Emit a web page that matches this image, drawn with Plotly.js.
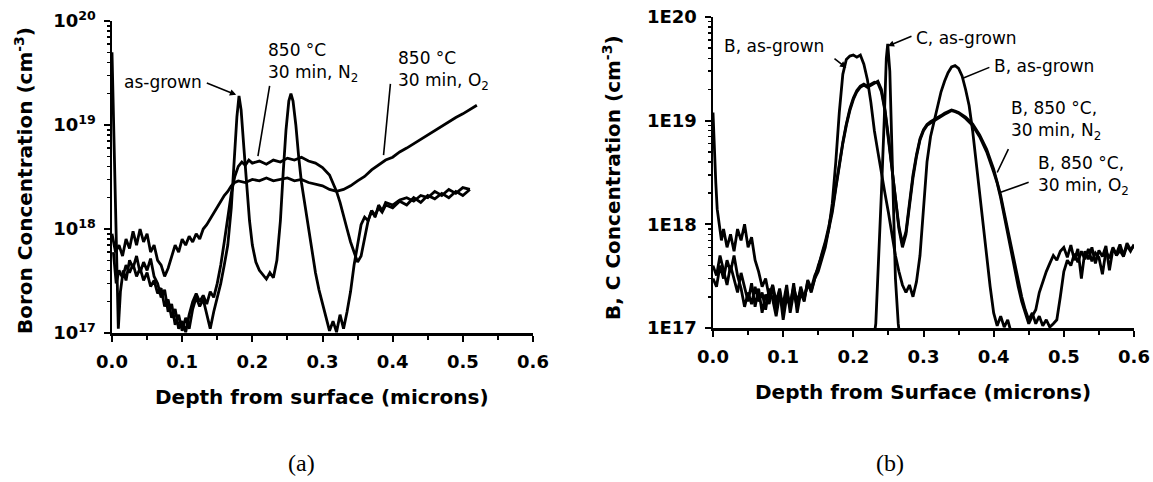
<!DOCTYPE html>
<html>
<head>
<meta charset="utf-8">
<script src="https://cdn.plot.ly/plotly-3.0.1.min.js"></script>
<style>html,body{margin:0;padding:0;background:#fff;}#chart{width:1153px;height:482px;}</style>
</head>
<body>
<div id="chart"></div>
<script>
// ---------- Panel (a): Boron concentration ----------
const xAsGrownA = [0.000,0.003,0.006,0.009,0.012,0.016,0.020,0.025,0.030,0.035,0.040,0.045,0.050,0.055,0.060,0.065,0.070,0.075,0.080,0.085,0.090,0.095,0.100,0.105,0.110,0.115,0.120,0.125,0.130,0.135,0.140,0.145,0.150,0.155,0.160,0.165,0.170,0.174,0.178,0.181,0.184,0.188,0.192,0.196,0.200,0.205,0.210,0.215,0.220,0.225,0.230,0.235,0.240,0.244,0.248,0.252,0.255,0.258,0.262,0.266,0.270,0.275,0.280,0.285,0.290,0.295,0.300,0.305,0.310,0.315,0.320,0.325,0.330,0.335,0.340,0.345,0.350,0.355,0.360,0.365,0.370,0.375,0.380,0.385,0.390,0.400,0.410,0.420,0.430,0.440,0.450,0.460,0.470,0.480,0.490,0.500,0.510];
const yAsGrownA = [5e19,8e18,1.2e18,1.1e17,2.5e17,4e17,3.2e17,5e17,4.2e17,5.5e17,3.8e17,4.8e17,4e17,5.2e17,3.5e17,3e17,2.2e17,2.6e17,1.6e17,1.9e17,1.2e17,1.5e17,1.05e17,1.4e17,1.1e17,1.7e17,2.2e17,1.8e17,2.1e17,1.5e17,1.1e17,1.6e17,2.2e17,3e17,4.5e17,7e17,1.6e18,4.5e18,1.2e19,1.9e19,1.4e19,6e18,2.5e18,1.2e18,7e17,4.8e17,4e17,3.6e17,3.3e17,3.8e17,3.4e17,5e17,1.2e18,3.5e18,9e18,1.7e19,2e19,1.7e19,1e19,5e18,2.8e18,1.7e18,1e18,6e17,3.8e17,2.6e17,1.9e17,1.4e17,1.05e17,1.3e17,1.02e17,1.5e17,1.1e17,1.6e17,2.5e17,4.5e17,7e17,1.1e18,1.3e18,1.2e18,1.5e18,1.35e18,1.6e18,1.45e18,1.7e18,1.6e18,1.85e18,1.7e18,2e18,1.8e18,2.1e18,1.95e18,2.2e18,2e18,2.3e18,2.1e18,2.4e18];

const xN2A = [0.002,0.006,0.010,0.015,0.020,0.025,0.030,0.035,0.040,0.045,0.050,0.055,0.060,0.065,0.070,0.075,0.080,0.085,0.090,0.095,0.100,0.105,0.110,0.115,0.120,0.125,0.130,0.135,0.140,0.145,0.150,0.155,0.160,0.165,0.170,0.175,0.180,0.185,0.190,0.195,0.200,0.210,0.220,0.230,0.240,0.250,0.260,0.270,0.280,0.290,0.300,0.310,0.315,0.320,0.325,0.330,0.335,0.340,0.345,0.350,0.355,0.360,0.365,0.370,0.375,0.380,0.385,0.390,0.400,0.410,0.420,0.430,0.440,0.450,0.460,0.470,0.480,0.490,0.500,0.510];
const yN2A = [6e17,3e17,4e17,3.4e17,4.5e17,3.8e17,4.6e17,3.5e17,4.2e17,3.2e17,3.8e17,2.8e17,3.2e17,2.4e17,2.7e17,1.8e17,2.1e17,1.4e17,1.7e17,1.1e17,1.3e17,1.02e17,1.5e17,2e17,2.4e17,2e17,2.3e17,1.9e17,2.5e17,2.2e17,3e17,4.5e17,7.5e17,1.3e18,2.2e18,3.2e18,4e18,4.4e18,4.1e18,4.6e18,4.3e18,4.5e18,4.2e18,4.6e18,4.4e18,4.8e18,4.6e18,4.9e18,4.5e18,4.3e18,3.9e18,3.3e18,2.8e18,2.3e18,1.8e18,1.3e18,1e18,7.5e17,6e17,4.8e17,5.5e17,8e17,1.2e18,1.5e18,1.3e18,1.7e18,1.5e18,1.8e18,1.7e18,1.9e18,2e18,1.85e18,2.1e18,2e18,2.3e18,2.1e18,2.4e18,2.2e18,2.5e18,2.4e18];

const xO2A = [0.000,0.005,0.010,0.015,0.020,0.025,0.030,0.035,0.040,0.045,0.050,0.055,0.060,0.065,0.070,0.075,0.080,0.085,0.090,0.095,0.100,0.105,0.110,0.115,0.120,0.125,0.130,0.135,0.140,0.145,0.150,0.155,0.160,0.165,0.170,0.175,0.180,0.190,0.200,0.210,0.220,0.230,0.240,0.250,0.260,0.270,0.280,0.290,0.300,0.310,0.320,0.330,0.340,0.350,0.360,0.370,0.380,0.390,0.400,0.410,0.420,0.430,0.440,0.450,0.460,0.470,0.480,0.490,0.500,0.510,0.520];
const yO2A = [9e17,6e17,7e17,5.5e17,8e17,6.5e17,9.5e17,7e17,1e18,7.5e17,9e17,6e17,7e17,5e17,4.5e17,3.5e17,4.2e17,5.5e17,7e17,6e17,8e17,7e17,8.5e17,7.5e17,9e17,8e17,1e18,1.1e18,1.25e18,1.4e18,1.6e18,1.8e18,2.1e18,2.3e18,2.6e18,2.8e18,2.9e18,2.8e18,3e18,2.9e18,3.1e18,2.9e18,3e18,3.1e18,2.9e18,3e18,2.8e18,2.7e18,2.6e18,2.4e18,2.3e18,2.4e18,2.6e18,2.9e18,3.2e18,3.7e18,4.1e18,4.6e18,4.9e18,5.5e18,6e18,6.6e18,7.3e18,8e18,8.8e18,9.8e18,1.08e19,1.18e19,1.28e19,1.4e19,1.55e19];

// ---------- Panel (b): B, C concentration ----------
const xBAsGrownB = [0.000,0.005,0.010,0.015,0.020,0.025,0.030,0.035,0.040,0.045,0.050,0.055,0.060,0.065,0.070,0.075,0.080,0.085,0.090,0.095,0.100,0.105,0.110,0.115,0.120,0.125,0.130,0.135,0.140,0.145,0.150,0.155,0.160,0.165,0.170,0.175,0.180,0.185,0.190,0.195,0.200,0.205,0.210,0.215,0.220,0.225,0.230,0.235,0.240,0.245,0.250,0.255,0.260,0.265,0.270,0.275,0.280,0.285,0.290,0.295,0.300,0.305,0.310,0.315,0.320,0.325,0.330,0.335,0.340,0.345,0.350,0.355,0.360,0.365,0.370,0.375,0.380,0.385,0.390,0.395,0.400,0.405,0.410,0.415,0.420,0.425];
const yBAsGrownB = [3e17,2.5e17,4e17,3e17,4.5e17,3.5e17,5e17,3.2e17,2.4e17,1.6e17,2.2e17,1.7e17,2.5e17,1.8e17,2.2e17,1.5e17,2.4e17,1.9e17,1.3e17,2.1e17,1.7e17,2.6e17,1.4e17,2.2e17,1.6e17,2.5e17,1.9e17,2.8e17,2.2e17,3e17,3.5e17,4.5e17,6e17,9e17,1.6e18,4e18,1.2e19,2.8e19,3.9e19,4.2e19,4.3e19,4.1e19,4.3e19,3.5e19,2.5e19,1.5e19,8e18,5e18,3e18,2e18,1.3e18,8e17,5e17,3.5e17,2.6e17,2.2e17,2.6e17,2e17,2.8e17,5e17,1.5e18,4e18,7e18,1e19,1.4e19,1.9e19,2.4e19,2.9e19,3.3e19,3.4e19,3.2e19,2.7e19,2e19,1.4e19,8e18,4e18,2e18,9e17,5e17,2.5e17,1.4e17,1.05e17,1.3e17,1.02e17,1.2e17,9e16];

const xBN2B = [0.000,0.002,0.004,0.006,0.009,0.012,0.015,0.020,0.025,0.030,0.035,0.040,0.045,0.050,0.055,0.060,0.065,0.070,0.075,0.080,0.085,0.090,0.095,0.100,0.105,0.110,0.115,0.120,0.125,0.130,0.135,0.140,0.145,0.150,0.155,0.160,0.165,0.170,0.175,0.180,0.185,0.190,0.195,0.200,0.205,0.210,0.215,0.220,0.225,0.230,0.235,0.240,0.245,0.250,0.255,0.260,0.265,0.270,0.275,0.280,0.285,0.290,0.295,0.300,0.305,0.310,0.315,0.320,0.325,0.330,0.335,0.340,0.345,0.350,0.360,0.370,0.380,0.390,0.400,0.405,0.410,0.415,0.420,0.425,0.430,0.435,0.440,0.445,0.450,0.455,0.460,0.465,0.470,0.475,0.480,0.485,0.490,0.495,0.500,0.505,0.510,0.515,0.520,0.525,0.530,0.535,0.540,0.545,0.550,0.555,0.560,0.565,0.570,0.575,0.580,0.585,0.590,0.595,0.600];
const yBN2B = [1.2e19,5e18,2.5e18,1.4e18,1e18,7e17,9e17,6e17,8e17,5.5e17,9e17,7e17,1e18,6e17,7.5e17,4.5e17,3.5e17,2.5e17,3e17,2e17,2.6e17,1.8e17,2.4e17,1.5e17,2.2e17,1.7e17,2.5e17,1.8e17,2.3e17,2e17,2.6e17,2.3e17,3e17,4e17,5e17,6.5e17,9e17,1.3e18,2.2e18,3.8e18,6e18,9e18,1.25e19,1.6e19,1.9e19,2.1e19,2.2e19,2.1e19,2.2e19,2.3e19,2.4e19,2e19,1.3e19,7e18,3.5e18,1.8e18,9e17,6e17,8e17,1.5e18,2.8e18,4.5e18,6.5e18,8e18,9e18,9.5e18,1e19,1.05e19,1.1e19,1.15e19,1.2e19,1.25e19,1.22e19,1.18e19,1.05e19,9e18,7e18,5e18,3.2e18,2.5e18,1.8e18,1.2e18,8e17,5.5e17,3.5e17,2.5e17,1.8e17,1.4e17,1.1e17,1.3e17,1.5e17,2.2e17,2.8e17,3.5e17,4.2e17,5e17,4.5e17,5.5e17,6e17,4.8e17,6.3e17,4.5e17,5.8e17,3e17,5.5e17,4.6e17,6e17,4.2e17,5.6e17,4.9e17,6.2e17,3.6e17,5.8e17,5.2e17,6.4e17,5e17,6.6e17,5.7e17,6.2e17];

const xBO2B = [0.000,0.005,0.010,0.015,0.020,0.025,0.030,0.035,0.040,0.045,0.050,0.055,0.060,0.065,0.070,0.075,0.080,0.085,0.090,0.095,0.100,0.105,0.110,0.115,0.120,0.125,0.130,0.135,0.140,0.145,0.150,0.155,0.160,0.165,0.170,0.175,0.180,0.185,0.190,0.195,0.200,0.205,0.210,0.215,0.220,0.225,0.230,0.235,0.240,0.245,0.250,0.255,0.260,0.265,0.270,0.275,0.280,0.285,0.290,0.295,0.300,0.305,0.310,0.315,0.320,0.325,0.330,0.335,0.340,0.345,0.350,0.360,0.370,0.380,0.390,0.400,0.405,0.410,0.415,0.420,0.425,0.430,0.435,0.440,0.445,0.450,0.455,0.460,0.465,0.470,0.475,0.480,0.485,0.490,0.495,0.500,0.505,0.510,0.515,0.520,0.525,0.530,0.535,0.540,0.545,0.550,0.555,0.560,0.565,0.570,0.575,0.580,0.585,0.590,0.595,0.600];
const yBO2B = [4e17,3.2e17,5e17,3.5e17,2.6e17,4e17,3e17,2.2e17,3.4e17,2.5e17,1.8e17,2.7e17,1.6e17,2.4e17,1.4e17,2.1e17,1.7e17,2.6e17,1.5e17,2.3e17,1.2e17,2e17,1.6e17,2.7e17,1.4e17,2.2e17,1.8e17,2.9e17,2.4e17,3.2e17,3.8e17,5.2e17,6.8e17,9.5e17,1.4e18,2.3e18,4e18,6.2e18,9.3e18,1.3e19,1.65e19,1.95e19,2.15e19,2.25e19,2.15e19,2.25e19,2.35e19,2.3e19,1.9e19,1.25e19,6.5e18,3.3e18,1.7e18,9.5e17,6.5e17,8.5e17,1.6e18,3e18,4.7e18,6.7e18,8.2e18,9.2e18,9.8e18,1.02e19,1.08e19,1.12e19,1.18e19,1.22e19,1.27e19,1.24e19,1.2e19,1.08e19,9.3e18,7.3e18,5.3e18,3.4e18,2.6e18,1.9e18,1.3e18,9e17,6e17,4e17,2.8e17,2e17,1.5e17,1.2e17,1.4e17,1.1e17,1.3e17,1.05e17,1.2e17,1.02e17,1.1e17,1.2e17,2e17,3.5e17,4.5e17,4e17,5.2e17,4.3e17,5.5e17,4.6e17,5.8e17,4.4e17,5.3e17,4.8e17,3.3e17,5.5e17,4.7e17,6e17,5e17,5.6e17,4.9e17,6.2e17,5.5e17,6.4e17];

const xCAsGrownB = [0.000,0.225,0.232,0.236,0.240,0.244,0.247,0.249,0.252,0.256,0.260,0.264,0.270,0.600];
const yCAsGrownB = [5e16,5e16,1.1e17,4e17,2e18,1e19,4e19,5.5e19,3e19,3e18,3e17,1.1e17,5e16,5e16];

// ---------- Tick labels ----------
const xTickVals = [0,0.1,0.2,0.3,0.4,0.5,0.6];
const xTickText = ['0.0','0.1','0.2','0.3','0.4','0.5','0.6'];
const xMinorVals = [0.05,0.15,0.25,0.35,0.45,0.55];
const yTickVals = [1e17,1e18,1e19,1e20];
const yTickTextA = ['10<sup>17</sup>','10<sup>18</sup>','10<sup>19</sup>','10<sup>20</sup>'];
const yTickTextB = ['1E17','1E18','1E19','1E20'];
const yMinorVals = [2e17,3e17,4e17,5e17,6e17,7e17,8e17,9e17,2e18,3e18,4e18,5e18,6e18,7e18,8e18,9e18,2e19,3e19,4e19,5e19,6e19,7e19,8e19,9e19];

const W = 1153, H = 482;
const px = v => v / W, py = v => 1 - v / H;
const lineStyle = {color:'#000', width:2.8};
const FONT = 'DejaVu Sans, Verdana, sans-serif';

const traces = [
  {x:xAsGrownA, y:yAsGrownA, xaxis:'x', yaxis:'y', mode:'lines', line:lineStyle, name:'as-grown'},
  {x:xN2A, y:yN2A, xaxis:'x', yaxis:'y', mode:'lines', line:lineStyle, name:'850 °C 30 min N2'},
  {x:xO2A, y:yO2A, xaxis:'x', yaxis:'y', mode:'lines', line:lineStyle, name:'850 °C 30 min O2'},
  {x:xBAsGrownB, y:yBAsGrownB, xaxis:'x2', yaxis:'y2', mode:'lines', line:lineStyle, name:'B, as-grown'},
  {x:xBN2B, y:yBN2B, xaxis:'x2', yaxis:'y2', mode:'lines', line:lineStyle, name:'B, N2'},
  {x:xBO2B, y:yBO2B, xaxis:'x2', yaxis:'y2', mode:'lines', line:lineStyle, name:'B, O2'},
  {x:xCAsGrownB, y:yCAsGrownB, xaxis:'x2', yaxis:'y2', mode:'lines', line:lineStyle, name:'C, as-grown'}
];

const tickFont = {size:18, family:FONT, weight:'bold', color:'#000'};
function xAx(domain, anchor, extra) {
  return Object.assign({
    domain: domain, anchor: anchor, range:[0,0.6], autorange:false,
    tickmode:'array', tickvals:xTickVals, ticktext:xTickText,
    ticks:'outside', ticklen:6, tickwidth:2, tickcolor:'#000',
    showline:true, linewidth:2.5, linecolor:'#000', showgrid:false, zeroline:false,
    tickfont:tickFont, ticklabelstandoff:5,
    minor:{tickmode:'array', tickvals:xMinorVals, ticks:'outside', ticklen:4, tickwidth:2, tickcolor:'#000', showgrid:false}
  }, extra || {});
}
function yAx(domain, anchor, ticktext, extra) {
  return Object.assign({
    domain: domain, anchor: anchor, type:'log', range:[17,20], autorange:false,
    tickmode:'array', tickvals:yTickVals, ticktext:ticktext,
    ticks:'outside', ticklen:6, tickwidth:2, tickcolor:'#000',
    showline:true, linewidth:2.5, linecolor:'#000', showgrid:false, zeroline:false,
    tickfont:tickFont, ticklabelstandoff:4,
    minor:{tickmode:'array', tickvals:yMinorVals, ticks:'outside', ticklen:3, tickwidth:1.5, tickcolor:'#000', showgrid:false}
  }, extra || {});
}
const topExtra = {side:'top', ticks:'inside', showticklabels:false, minor:{tickmode:'array', tickvals:xMinorVals, ticks:'inside', ticklen:4, tickwidth:2, tickcolor:'#000', showgrid:false}};
const rightExtra = {side:'right', ticks:'inside', showticklabels:false, minor:{tickmode:'array', tickvals:yMinorVals, ticks:'inside', ticklen:4, tickwidth:1.5, tickcolor:'#000', showgrid:false}};

const domXA = [px(112), px(533)], domYA = [py(333), py(21)];
const domXB = [px(713), px(1134)], domYB = [py(328), py(17)];

const annFont = {family:FONT, size:17, color:'#000'};
const titleFont = {family:FONT, size:20, weight:'bold', color:'#000'};
const capFont = {family:'Liberation Serif, Times New Roman, serif', size:24, color:'#000'};
function label(xp, yp, text, yanchor) {
  return {xref:'paper', yref:'paper', x:px(xp), y:py(yp), text:text, showarrow:false, xanchor:'left', yanchor:yanchor||'middle', align:'left', font:annFont};
}
function centered(xp, yp, text, font, angle) {
  return {xref:'paper', yref:'paper', x:px(xp), y:py(yp), text:text, showarrow:false, xanchor:'center', yanchor:'middle', textangle:angle||0, font:font};
}
function pointer(xr, yr, x, ly, tx, tly, head) {
  return {xref:xr, yref:yr, axref:xr, ayref:yr, x:x, y:ly, ax:tx, ay:tly, text:'', showarrow:true, arrowhead:head, arrowsize:0.8, arrowwidth:1.6, arrowcolor:'#000', standoff:0, startstandoff:0};
}

const annotations = [
  centered(322, 397, 'Depth from surface (microns)', titleFont),
  centered(923, 392, 'Depth from Surface (microns)', titleFont),
  centered(24, 181, 'Boron Concentration (cm<sup>-3</sup>)', titleFont, -90),
  centered(612, 178, 'B, C Concentration (cm<sup>-3</sup>)', titleFont, -90),
  centered(301, 463, '(a)', capFont),
  centered(890, 463, '(b)', capFont),
  // panel (a) labels
  label(122, 82, 'as-grown'),
  pointer('x','y', 0.177, 19.29, 0.133, 19.41, 2),
  label(266, 38, '850 °C<br>30 min, N<sub>2</sub>', 'top'),
  pointer('x','y', 0.208, 18.70, 0.225, 19.39, 0),
  label(396, 46, '850 °C<br>30 min, O<sub>2</sub>', 'top'),
  pointer('x','y', 0.387, 18.71, 0.397, 19.41, 0),
  // panel (b) labels
  label(722, 46, 'B, as-grown'),
  pointer('x2','y2', 0.190, 19.51, 0.171, 19.61, 2),
  label(914, 38, 'C, as-grown'),
  pointer('x2','y2', 0.249, 19.72, 0.285, 19.82, 2),
  label(992, 66, 'B, as-grown'),
  pointer('x2','y2', 0.356, 19.41, 0.396, 19.52, 0),
  label(1009, 96, 'B, 850 °C,<br>30 min, N<sub>2</sub>', 'top'),
  pointer('x2','y2', 0.405, 18.50, 0.422, 18.74, 0),
  label(1036, 151, 'B, 850 °C,<br>30 min, O<sub>2</sub>', 'top'),
  pointer('x2','y2', 0.410, 18.31, 0.452, 18.41, 0)
];

const layout = {
  width:W, height:H, margin:{l:0, r:0, t:0, b:0},
  paper_bgcolor:'#fff', plot_bgcolor:'#fff', showlegend:false,
  font:{family:FONT, color:'#000'},
  xaxis: xAx(domXA, 'y'),
  yaxis: yAx(domYA, 'x', yTickTextA),
  xaxis2: xAx(domXB, 'y2'),
  yaxis2: yAx(domYB, 'x2', yTickTextB),
  xaxis3: xAx(domXA, 'y', Object.assign({overlaying:'x'}, topExtra)),
  yaxis3: yAx(domYA, 'x', yTickTextA, Object.assign({overlaying:'y'}, rightExtra)),
  xaxis4: xAx(domXB, 'y2', Object.assign({overlaying:'x2'}, topExtra)),
  yaxis4: yAx(domYB, 'x2', yTickTextB, Object.assign({overlaying:'y2'}, rightExtra)),
  annotations: annotations
};

Plotly.newPlot('chart', traces, layout, {staticPlot:true, displayModeBar:false});
</script>
</body>
</html>
